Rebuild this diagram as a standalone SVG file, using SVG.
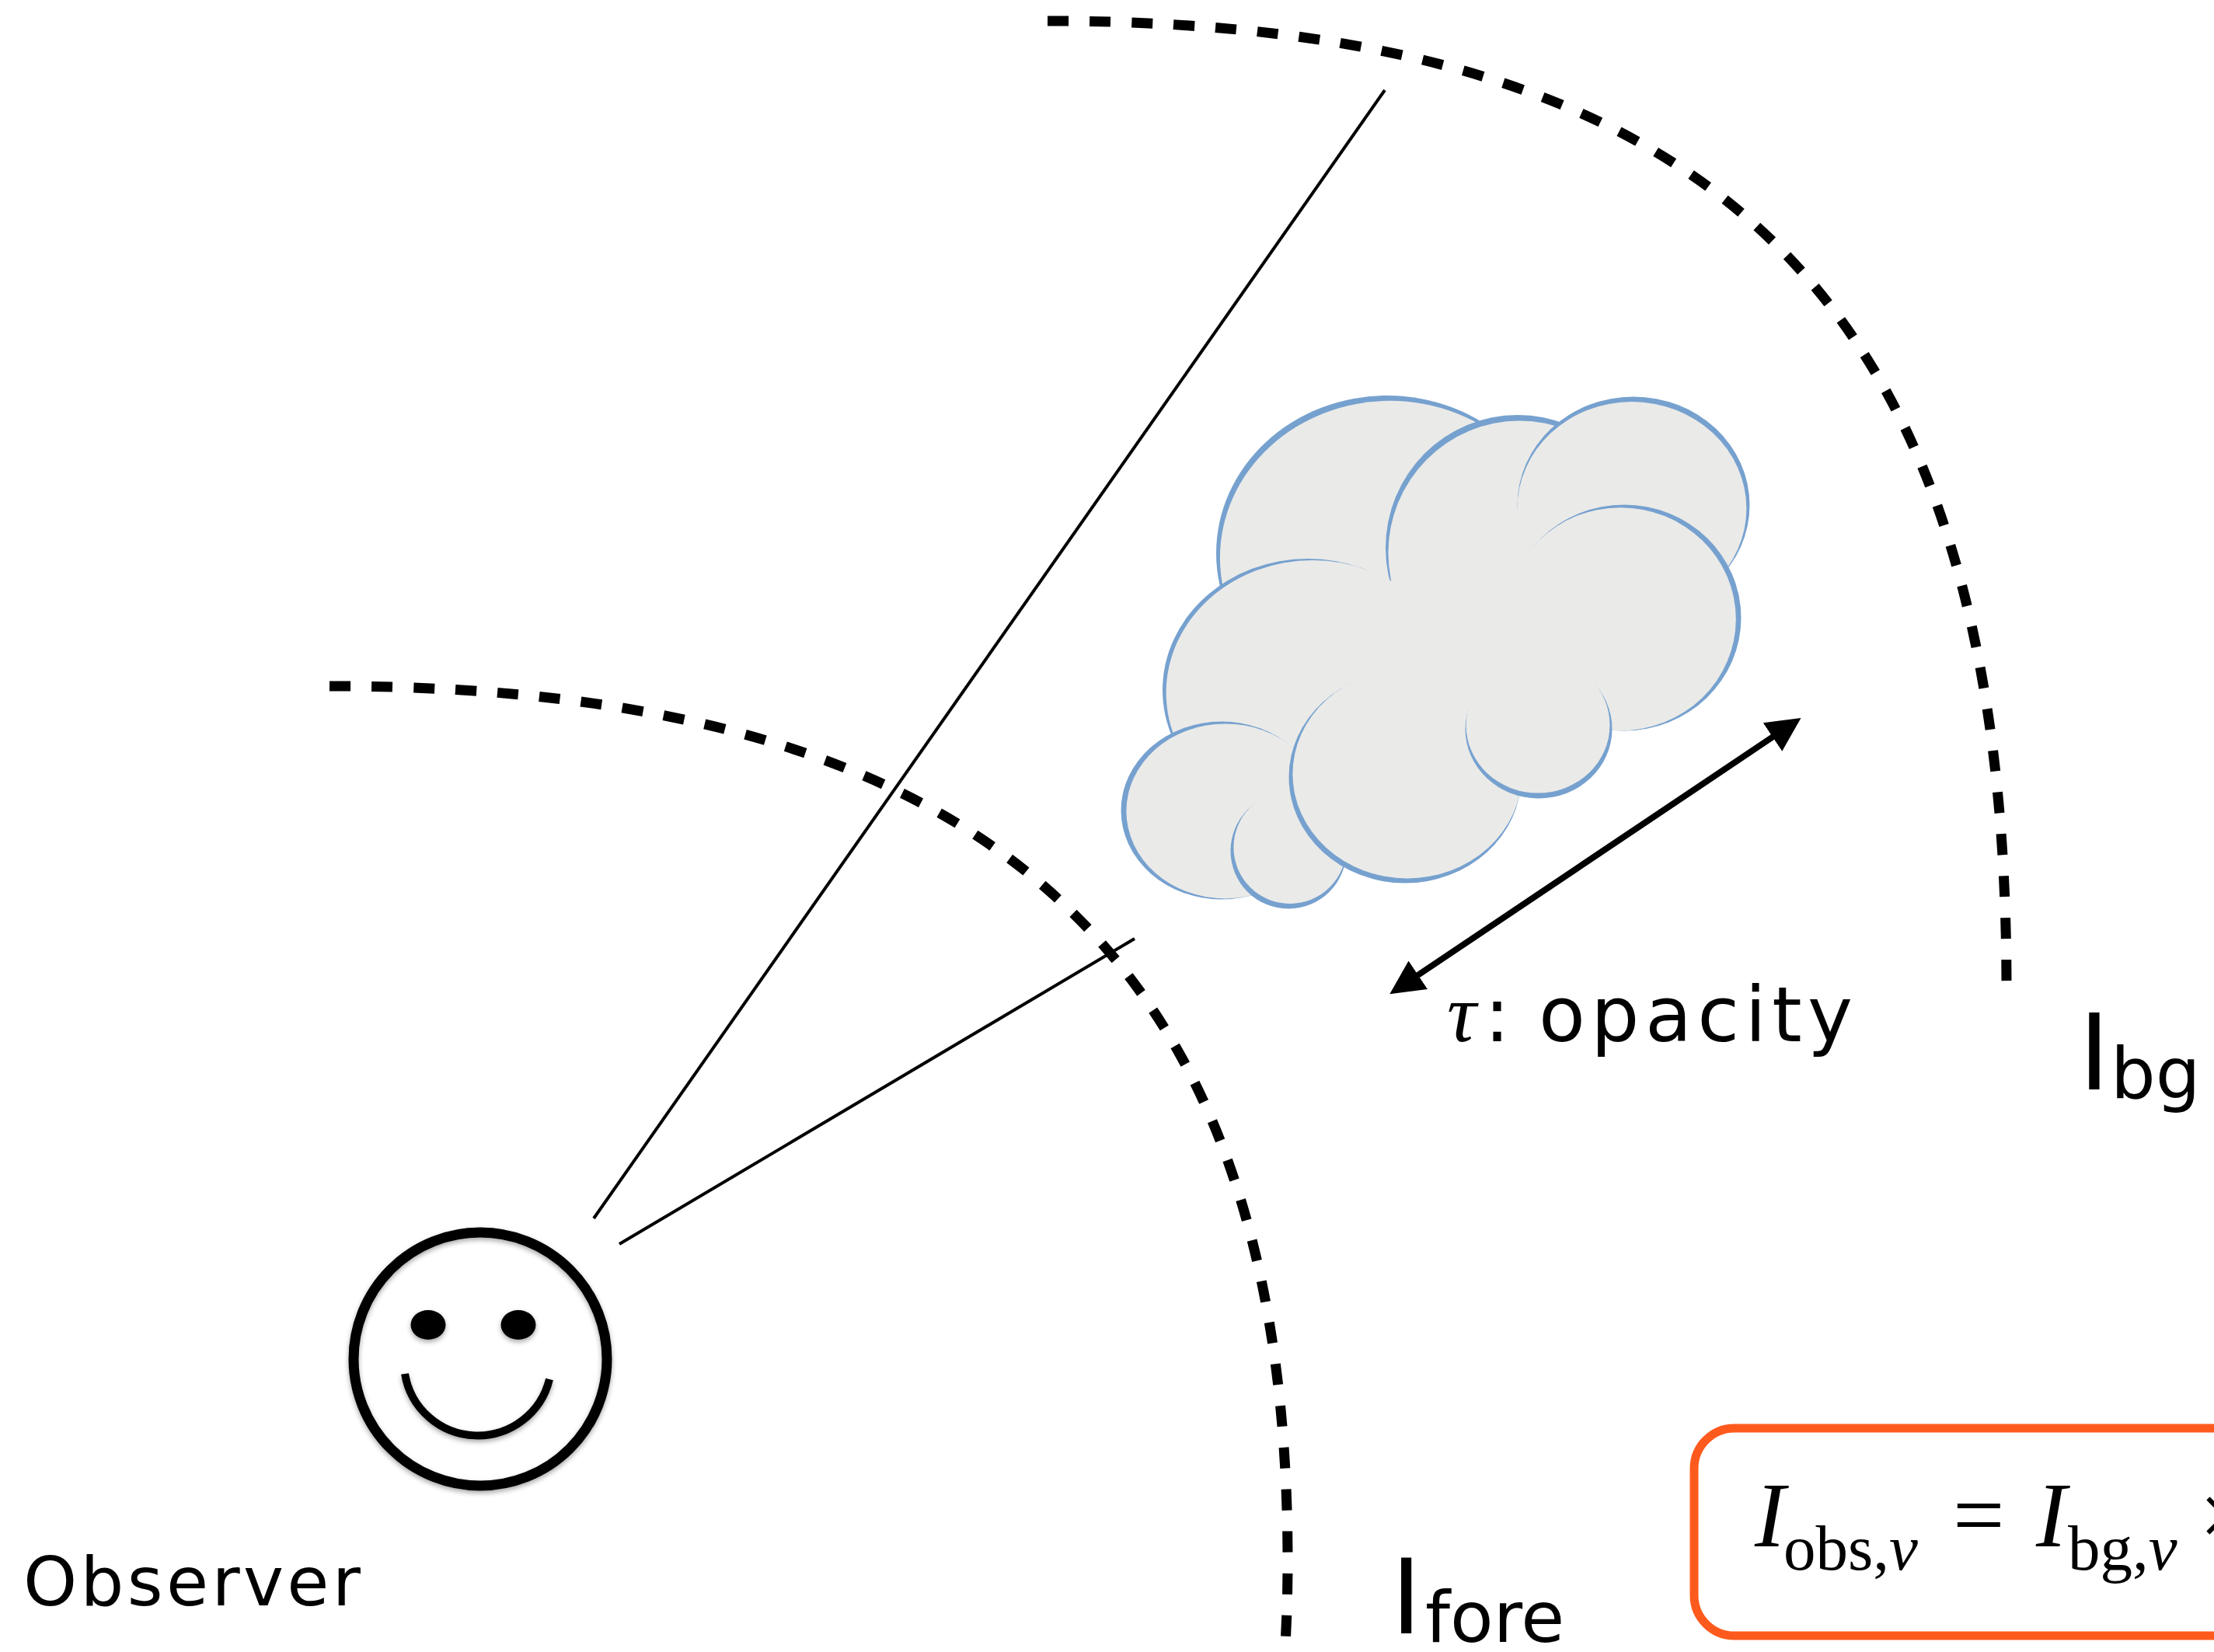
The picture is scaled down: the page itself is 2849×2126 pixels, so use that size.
<svg xmlns="http://www.w3.org/2000/svg" width="2849" height="2126" viewBox="0 0 2849 2126">
  <style>
    .boundary { fill: none; stroke: #000; stroke-width: 13; stroke-dasharray: 27 27; }
    .sight { stroke: #000; stroke-width: 4; fill: none; }
    .face { fill: none; stroke: #000; }
    .lobe-edge { fill: #76a1cf; }
    .lobe-body { fill: #eaeae8; }
    .label { font-family: "DejaVu Sans", "Liberation Sans", sans-serif; fill: #000; }
    .math { font-family: "Liberation Serif", "Times New Roman", serif; fill: #000; }
  </style>
  <defs>
    <marker id="head" viewBox="0 0 44 44" refX="4" refY="22" markerWidth="44" markerHeight="44" markerUnits="userSpaceOnUse" orient="auto-start-reverse">
      <path d="M0,0 L44,22 L0,44 Z" fill="#000"/>
    </marker>
    <filter id="soft" x="-15%" y="-15%" width="130%" height="135%">
      <feDropShadow dx="0" dy="3" stdDeviation="3" flood-color="#000" flood-opacity="0.35"/>
    </filter>
  </defs>

  <rect width="2849" height="2126" fill="#fff"/>

  <!-- dashed boundaries: foreground shell and background shell -->
  <g id="boundary-fore">
    <path class="boundary" d="M424,883 C1299,883 1657,1255 1657,2010 C1657,2060 1655,2100 1653,2135"/>
  </g>
  <g id="boundary-bg">
    <path class="boundary" d="M1348,27 C2223,27 2582,400 2582,1272"/>
  </g>

  <!-- cloud: each lobe is a blue crescent under a slightly shifted grey body -->
  <g id="cloud">
    <ellipse class="lobe-body" cx="1860" cy="850" rx="150" ry="120"/>
    <!-- A -->
    <ellipse class="lobe-edge" cx="1785" cy="712" rx="220" ry="203"/>
    <ellipse class="lobe-body" cx="1788.9" cy="717.8" rx="219" ry="202"/>
    <!-- B -->
    <ellipse class="lobe-edge" cx="1953" cy="705" rx="170" ry="171"/>
    <ellipse class="lobe-body" cx="1955.4" cy="711.6" rx="169" ry="170"/>
    <!-- C -->
    <ellipse class="lobe-edge" cx="2102" cy="650" rx="149.5" ry="139.5"/>
    <ellipse class="lobe-body" cx="2099.9" cy="654.5" rx="147.5" ry="137.5"/>
    <!-- D -->
    <ellipse class="lobe-edge" cx="2090" cy="795" rx="150.5" ry="145.5"/>
    <ellipse class="lobe-body" cx="2085.3" cy="796.7" rx="148.5" ry="143.5"/>
    <!-- E -->
    <ellipse class="lobe-edge" cx="1683" cy="888" rx="187" ry="169"/>
    <ellipse class="lobe-body" cx="1689.1" cy="891.5" rx="188.5" ry="170.5"/>
    <!-- F -->
    <ellipse class="lobe-edge" cx="1572" cy="1043" rx="129.5" ry="114.5"/>
    <ellipse class="lobe-body" cx="1576.9" cy="1043.9" rx="127.5" ry="112.5"/>
    <!-- G -->
    <ellipse class="lobe-edge" cx="1658" cy="1095" rx="74.5" ry="74.5"/>
    <ellipse class="lobe-body" cx="1659.9" cy="1090.4" rx="72.5" ry="72.5"/>
    <!-- H -->
    <ellipse class="lobe-edge" cx="1808" cy="1000" rx="149.5" ry="136.5"/>
    <ellipse class="lobe-body" cx="1810.9" cy="995.9" rx="147.5" ry="134.5"/>
    <!-- I -->
    <ellipse class="lobe-edge" cx="1980" cy="938" rx="94.5" ry="89.5"/>
    <ellipse class="lobe-body" cx="1979" cy="933.1" rx="92.5" ry="87.5"/>
  </g>

  <!-- observer -->
  <g id="observer" filter="url(#soft)">
    <circle class="face" cx="618" cy="1749" r="163" stroke-width="13" fill="#fff"/>
    <ellipse cx="551" cy="1705" rx="22.5" ry="19" fill="#000"/>
    <ellipse cx="667" cy="1705" rx="22.5" ry="19" fill="#000"/>
    <path class="face" d="M521,1768 A95,95 0 0 0 707,1775" stroke-width="10"/>
  </g>

  <!-- connectors: lines of sight and the opacity arrow -->
  <g id="connectors">
    <line class="sight" x1="1782" y1="116" x2="764" y2="1568"/>
    <line class="sight" x1="1460" y1="1208" x2="797" y2="1601"/>
    <line x1="1821.5" y1="1257" x2="2284.3" y2="946.3" stroke="#000" stroke-width="8" marker-start="url(#head)" marker-end="url(#head)"/>
  </g>

  <!-- labels -->
  <g id="label-observer">
    <text class="label" x="30" y="2066" font-size="88" textLength="434" lengthAdjust="spacing">Observer</text>
  </g>
  <g id="label-opacity">
    <text x="1862" y="1340"><tspan class="math" font-style="italic" font-size="105">τ</tspan><tspan class="label" x="1910" font-size="98">:</tspan></text>
    <text class="label" x="1980" y="1340" font-size="98" textLength="404" lengthAdjust="spacing">opacity</text>
  </g>
  <g id="label-fore">
    <text class="label" x="1790" y="2102" font-size="133">I</text>
    <text class="label" x="1834" y="2113" font-size="91">fore</text>
  </g>
  <g id="label-bg">
    <text class="label" x="2675" y="1402" font-size="135">I</text>
    <text class="label" x="2716" y="1413" font-size="91">bg</text>
  </g>

  <!-- radiative transfer equation -->
  <g id="equation">
    <rect x="2180" y="1838" width="760" height="267" rx="52" ry="52" fill="#fff" stroke="#fe5a1d" stroke-width="11"/>
    <text class="math" x="2258" y="1990" font-size="118" font-style="italic">I</text>
    <text class="math" x="2295" y="2020" font-size="83">obs,<tspan font-style="italic">ν</tspan></text>
    <text class="math" x="2513" y="1990" font-size="118">=</text>
    <text class="math" x="2620" y="1990" font-size="118" font-style="italic">I</text>
    <text class="math" x="2661" y="2020" font-size="83">bg,<tspan font-style="italic">ν</tspan></text>
    <text class="math" x="2830" y="1990" font-size="118">×</text>
  </g>
</svg>
